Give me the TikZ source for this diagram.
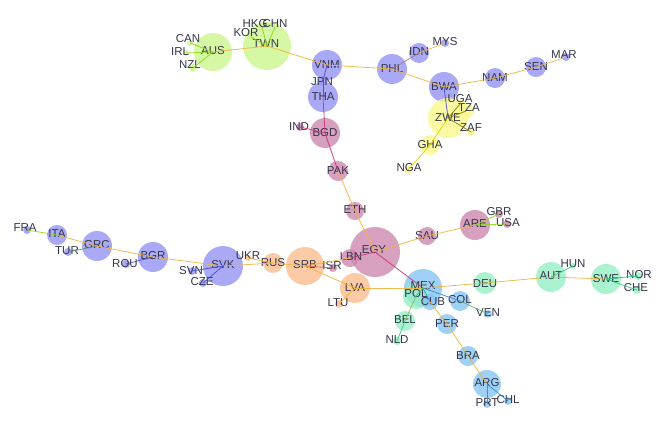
\documentclass[tikz,border=0pt]{standalone}
\usepackage{fontspec}
\setmainfont{Liberation Sans}
\definecolor{limeC}{HTML}{CCF58C}
\definecolor{blueC}{HTML}{9494F2}
\definecolor{pinkC}{HTML}{CC88AE}
\definecolor{yelC}{HTML}{F9F98E}
\definecolor{oraC}{HTML}{FBBE90}
\definecolor{lblC}{HTML}{86C6F2}
\definecolor{mintC}{HTML}{96F0C4}
\definecolor{txtC}{HTML}{34344A}
\definecolor{trunkC}{HTML}{F0B53C}
\definecolor{limeE}{HTML}{8ED41E}
\definecolor{blueE}{HTML}{4A4AD6}
\definecolor{pinkE}{HTML}{D0307A}
\definecolor{yelE}{HTML}{E0D000}
\definecolor{lblE}{HTML}{2E8ED8}
\definecolor{mintE}{HTML}{30C880}
\tikzset{
  gn/.style={circle, inner sep=0pt, draw=none, fill opacity=0.8},
  lab/.style={text=txtC, inner sep=0pt, font=\fontsize{11.5}{12}\selectfont},
  ed/.style={line width=0.8pt, draw=trunkC, opacity=0.9},
}
\newcommand{\cty}[5]{\node[gn, fill=#5, minimum size=#4*2] (#1) at (#2,#3) {};}
\begin{document}
\begin{tikzpicture}[x=1pt,y=-1pt]
\useasboundingbox (0,0) rectangle (659,421);
% lime
\cty{AUS}{213}{52}{19}{limeC}
\cty{TWN}{267}{46}{24}{limeC}
\cty{CAN}{190}{43}{3}{limeC}
\cty{IRL}{186}{53}{3}{limeC}
\cty{NZL}{193}{68}{4}{limeC}
\cty{KOR}{251}{37}{3}{limeC}
\cty{HKG}{262}{27}{3}{limeC}
\cty{CHN}{275}{27}{3}{limeC}
% blue top
\cty{VNM}{327}{65}{15}{blueC}
\cty{JPN}{323}{81}{5}{blueC}
\cty{THA}{323}{97}{15}{blueC}
\cty{PHL}{392}{69}{15}{blueC}
\cty{IDN}{419}{53}{10}{blueC}
\cty{MYS}{445}{43}{4}{blueC}
\cty{BWA}{444}{87}{15}{blueC}
\cty{NAM}{495}{78}{10}{blueC}
\cty{SEN}{536}{67}{10}{blueC}
\cty{MAR}{566}{57}{4}{blueC}
% yellow
\cty{ZWE}{448}{118}{20}{yelC}
\cty{UGA}{461}{103}{4}{yelC}
\cty{TZA}{466}{111}{8}{yelC}
\cty{ZAF}{471}{132}{4}{yelC}
\cty{GHA}{430}{145}{10}{yelC}
\cty{NGA}{408}{170}{4}{yelC}
% pink
\cty{BGD}{325}{133}{15}{pinkC}
\cty{IND}{300}{127}{4}{pinkC}
\cty{PAK}{338}{171}{10}{pinkC}
\cty{ETH}{355}{211}{9}{pinkC}
\cty{EGY}{375}{252}{25}{pinkC}
\cty{LBN}{350}{258}{9}{pinkC}
\cty{SAU}{427}{236}{9}{pinkC}
\cty{ARE}{475}{225}{15}{pinkC}
\cty{GBR}{499}{214}{4}{pinkC}
\cty{USA}{507}{224}{4}{pinkC}
\cty{ISR}{333}{268}{4}{pinkC}
% orange
\cty{SRB}{305}{266}{19}{oraC}
\cty{RUS}{273}{263}{10}{oraC}
\cty{UKR}{248}{258}{3}{oraC}
\cty{LVA}{355}{288}{15}{oraC}
\cty{LTU}{339}{304}{4}{oraC}
% blue left
\cty{FRA}{27}{230}{4}{blueC}
\cty{ITA}{57}{235}{10}{blueC}
\cty{TUR}{68}{252}{4}{blueC}
\cty{GRC}{97}{246}{15}{blueC}
\cty{ROU}{126}{264}{4}{blueC}
\cty{BGR}{153}{257}{15}{blueC}
\cty{SVK}{223}{266}{20}{blueC}
\cty{SVN}{192}{271}{4}{blueC}
\cty{CZE}{203}{283}{4}{blueC}
% light blue
\cty{MEX}{423}{288}{19}{lblC}
\cty{COL}{460}{301}{10}{lblC}
\cty{VEN}{488}{314}{4}{lblC}
\cty{PER}{447}{324}{10}{lblC}
\cty{BRA}{468}{356}{10}{lblC}
\cty{ARG}{487}{384}{14}{lblC}
\cty{PRT}{487}{404}{4}{lblC}
\cty{CHL}{508}{401}{4}{lblC}
% mint
\cty{POL}{416}{296}{13}{mintC}
\cty{DEU}{485}{283}{11}{mintC}
\cty{AUT}{551}{277}{15}{mintC}
\cty{HUN}{573}{266}{3}{mintC}
\cty{SWE}{606}{279}{15}{mintC}
\cty{NOR}{638}{276}{4}{mintC}
\cty{CHE}{637}{290}{4}{mintC}
\cty{BEL}{405}{321}{10}{mintC}
\cty{NLD}{397}{341}{4}{mintC}
\cty{CUB}{430}{302}{8}{lblC}
% labels
\node[lab] at (213,51) {AUS};
\node[lab] at (266,44) {TWN};
\node[lab] at (188,39) {CAN};
\node[lab] at (180,52) {IRL};
\node[lab] at (190,65) {NZL};
\node[lab] at (246,33) {KOR};
\node[lab] at (255,24) {HKG};
\node[lab] at (275,24) {CHN};
\node[lab] at (327,65) {VNM};
\node[lab] at (322,82) {JPN};
\node[lab] at (323,97) {THA};
\node[lab] at (392,69) {PHL};
\node[lab] at (419,52) {IDN};
\node[lab] at (445,42) {MYS};
\node[lab] at (444,87) {BWA};
\node[lab] at (495,78) {NAM};
\node[lab] at (536,67) {SEN};
\node[lab] at (564,55) {MAR};
\node[lab] at (448,118) {ZWE};
\node[lab] at (460,99) {UGA};
\node[lab] at (469,108) {TZA};
\node[lab] at (471,128) {ZAF};
\node[lab] at (430,145) {GHA};
\node[lab] at (409,168) {NGA};
\node[lab] at (325,133) {BGD};
\node[lab] at (299,127) {IND};
\node[lab] at (338,171) {PAK};
\node[lab] at (355,210) {ETH};
\node[lab] at (374,250) {EGY};
\node[lab] at (351,257) {LBN};
\node[lab] at (427,236) {SAU};
\node[lab] at (475,224) {ARE};
\node[lab] at (499,212) {GBR};
\node[lab] at (508,223) {USA};
\node[lab] at (332,266) {ISR};
\node[lab] at (305,265) {SRB};
\node[lab] at (273,263) {RUS};
\node[lab] at (248,256) {UKR};
\node[lab] at (355,288) {LVA};
\node[lab] at (338,303) {LTU};
\node[lab] at (25,228) {FRA};
\node[lab] at (57,234) {ITA};
\node[lab] at (67,251) {TUR};
\node[lab] at (97,245) {GRC};
\node[lab] at (125,264) {ROU};
\node[lab] at (153,256) {BGR};
\node[lab] at (223,265) {SVK};
\node[lab] at (191,271) {SVN};
\node[lab] at (202,282) {CZE};
\node[lab] at (423,286) {MEX};
\node[lab] at (416,294) {POL};
\node[lab] at (433,302) {CUB};
\node[lab] at (460,300) {COL};
\node[lab] at (488,313) {VEN};
\node[lab] at (447,324) {PER};
\node[lab] at (468,356) {BRA};
\node[lab] at (487,383) {ARG};
\node[lab] at (487,403) {PRT};
\node[lab] at (508,400) {CHL};
\node[lab] at (485,284) {DEU};
\node[lab] at (551,276) {AUT};
\node[lab] at (573,264) {HUN};
\node[lab] at (606,279) {SWE};
\node[lab] at (639,275) {NOR};
\node[lab] at (636,288) {CHE};
\node[lab] at (405,320) {BEL};
\node[lab] at (397,340) {NLD};
% edges
\draw[ed, draw=limeE] (AUS.center) -- (CAN.center);
\draw[ed, draw=limeE] (AUS.center) -- (IRL.center);
\draw[ed, draw=limeE] (AUS.center) -- (NZL.center);
\draw[ed] (AUS.center) -- (TWN.center);
\draw[ed, draw=limeE] (TWN.center) -- (KOR.center);
\draw[ed, draw=limeE] (TWN.center) -- (HKG.center);
\draw[ed, draw=limeE] (TWN.center) -- (CHN.center);
\draw[ed] (TWN.center) -- (VNM.center);
\draw[ed, draw=blueE] (VNM.center) -- (JPN.center);
\draw[ed, draw=blueE] (JPN.center) -- (THA.center);
\draw[ed, draw=pinkE] (THA.center) -- (BGD.center);
\draw[ed] (VNM.center) -- (PHL.center);
\draw[ed, draw=blueE!50!trunkC] (PHL.center) -- (IDN.center);
\draw[ed] (IDN.center) -- (MYS.center);
\draw[ed] (PHL.center) -- (BWA.center);
\draw[ed] (BWA.center) -- (NAM.center);
\draw[ed] (NAM.center) -- (SEN.center);
\draw[ed] (SEN.center) -- (MAR.center);
\draw[ed, draw=blueE] (BWA.center) -- (ZWE.center);
\draw[ed, draw=yelE!60!black] (ZWE.center) -- (UGA.center);
\draw[ed, draw=yelE!60!black] (ZWE.center) -- (TZA.center);
\draw[ed, draw=yelE!60!black] (ZWE.center) -- (ZAF.center);
\draw[ed, draw=yelE] (ZWE.center) -- (GHA.center);
\draw[ed, draw=yelE] (GHA.center) -- (NGA.center);
\draw[ed, draw=pinkE] (BGD.center) -- (IND.center);
\draw[ed, draw=pinkE] (BGD.center) -- (PAK.center);
\draw[ed] (PAK.center) -- (ETH.center);
\draw[ed] (ETH.center) -- (EGY.center);
\draw[ed, draw=pinkE] (EGY.center) -- (LBN.center);
\draw[ed] (EGY.center) -- (SAU.center);
\draw[ed] (SAU.center) -- (ARE.center);
\draw[ed, draw=limeE] (ARE.center) -- (GBR.center);
\draw[ed, draw=limeE] (ARE.center) -- (USA.center);
\draw[ed, draw=pinkE] (EGY.center) -- (MEX.center);
\draw[ed] (SRB.center) -- (RUS.center);
\draw[ed] (RUS.center) -- (UKR.center);
\draw[ed] (RUS.center) -- (SVK.center);
\draw[ed, draw=pinkE!60!trunkC] (SRB.center) -- (ISR.center);
\draw[ed] (SRB.center) -- (LBN.center);
\draw[ed] (SRB.center) -- (LVA.center);
\draw[ed] (LVA.center) -- (LTU.center);
\draw[ed] (LVA.center) -- (MEX.center);
\draw[ed, draw=limeE] (FRA.center) -- (ITA.center);
\draw[ed] (ITA.center) -- (GRC.center);
\draw[ed, draw=blueE!50!limeE] (GRC.center) -- (TUR.center);
\draw[ed] (GRC.center) -- (BGR.center);
\draw[ed, draw=blueE] (BGR.center) -- (ROU.center);
\draw[ed] (BGR.center) -- (SVK.center);
\draw[ed, draw=blueE] (SVK.center) -- (SVN.center);
\draw[ed, draw=blueE] (SVK.center) -- (CZE.center);
\draw[ed, draw=lblE] (MEX.center) -- (CUB.center);
\draw[ed, draw=lblE] (MEX.center) -- (COL.center);
\draw[ed, draw=limeE!60!lblE] (COL.center) -- (VEN.center);
\draw[ed] (CUB.center) -- (PER.center);
\draw[ed] (PER.center) -- (BRA.center);
\draw[ed] (BRA.center) -- (ARG.center);
\draw[ed, draw=lblE] (ARG.center) -- (PRT.center);
\draw[ed, draw=lblE] (ARG.center) -- (CHL.center);
\draw[ed, draw=mintE] (MEX.center) -- (POL.center);
\draw[ed] (MEX.center) -- (DEU.center);
\draw[ed] (DEU.center) -- (AUT.center);
\draw[ed, draw=mintE] (AUT.center) -- (HUN.center);
\draw[ed] (AUT.center) -- (SWE.center);
\draw[ed, draw=mintE] (SWE.center) -- (NOR.center);
\draw[ed, draw=mintE] (SWE.center) -- (CHE.center);
\draw[ed, draw=mintE!50!trunkC] (POL.center) -- (BEL.center);
\draw[ed, draw=mintE] (BEL.center) -- (NLD.center);
\end{tikzpicture}
\end{document}
